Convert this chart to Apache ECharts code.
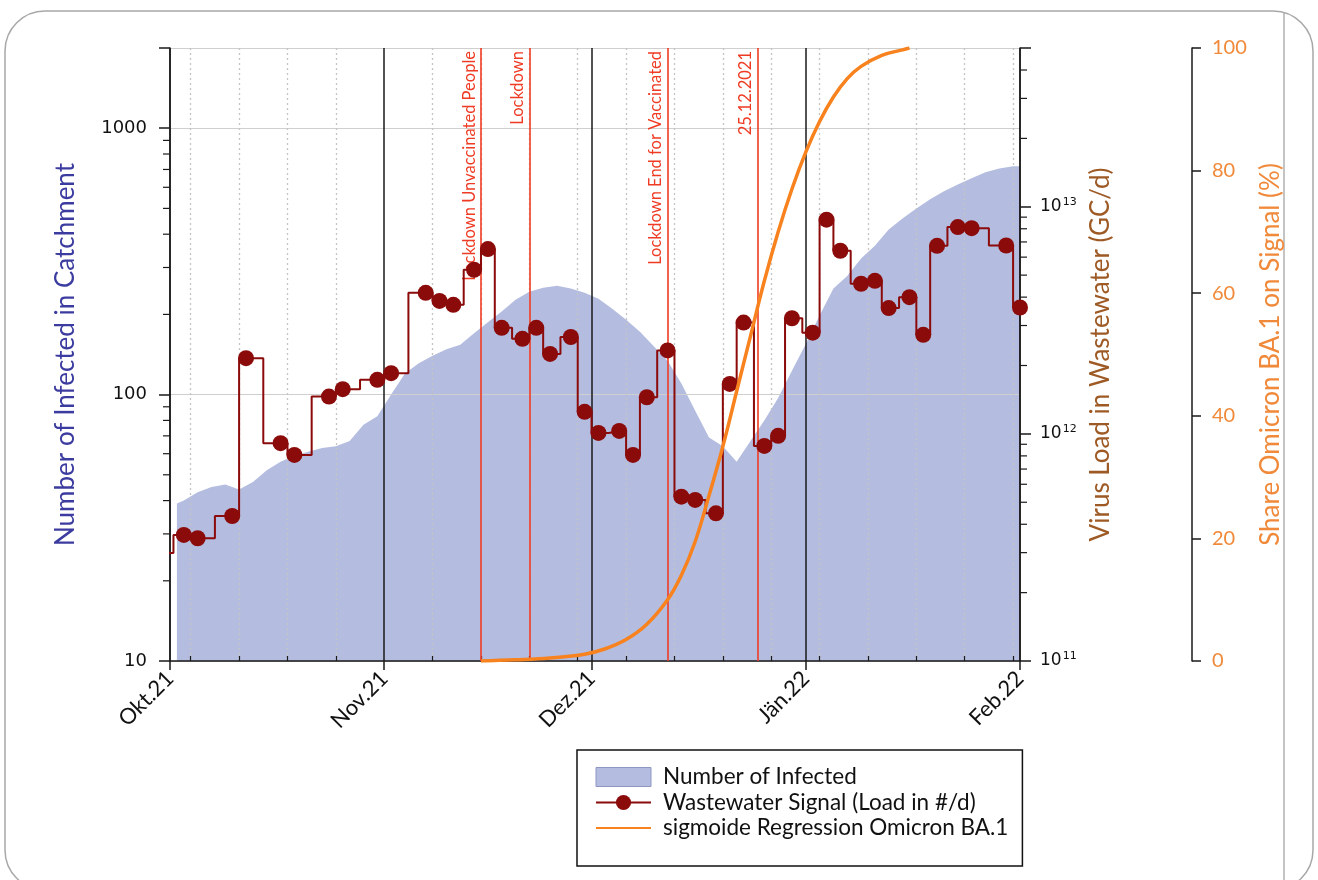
<!DOCTYPE html>
<html><head><meta charset="utf-8">
<script src="https://cdn.jsdelivr.net/npm/echarts@6/dist/echarts.min.js"></script>
<style>html,body{margin:0;padding:0;background:#fff}#c{width:1318px;height:880px}</style>
</head><body><div id="c"></div>
<script>
// ---------- data ----------
const seriesNames = ['Number of Infected', 'Wastewater Signal (Load in #/d)', 'sigmoide Regression Omicron BA.1'];

const monthTicks  = ['2021-10-01', '2021-11-01', '2021-12-01', '2022-01-01', '2022-02-01'];
const monthLabels = ['Okt.21', 'Nov.21', 'Dez.21', 'Jän.22', 'Feb.22'];
const weekTicks = ['2021-10-04','2021-10-11','2021-10-18','2021-10-25','2021-11-08','2021-11-15','2021-11-22',
  '2021-11-29','2021-12-06','2021-12-13','2021-12-20','2021-12-27','2022-01-03','2022-01-10','2022-01-17',
  '2022-01-24','2022-01-31'];

const leftMinorTicks  = [20,30,40,50,60,70,80,90,200,300,400,500,600,700,800,900];
const rightMinorTicks = [2e11,3e11,4e11,5e11,6e11,7e11,8e11,9e11,2e12,3e12,4e12,5e12,6e12,7e12,8e12,9e12,2e13,3e13,4e13];

const eventDates  = ['2021-11-15', '2021-11-22', '2021-12-12', '2021-12-25'];
const eventLabels = ['Lockdown Unvaccinated People', 'Lockdown', 'Lockdown End for Vaccinated', '25.12.2021'];

const infectedDates = ['2021-10-02','2021-10-03','2021-10-05','2021-10-07','2021-10-09','2021-10-11','2021-10-13',
  '2021-10-15','2021-10-17','2021-10-19','2021-10-21','2021-10-23','2021-10-25','2021-10-27','2021-10-29',
  '2021-10-31','2021-11-02','2021-11-04','2021-11-06','2021-11-08','2021-11-10','2021-11-12','2021-11-14',
  '2021-11-16','2021-11-18','2021-11-20','2021-11-22','2021-11-24','2021-11-26','2021-11-28','2021-11-30',
  '2021-12-02','2021-12-04','2021-12-06','2021-12-08','2021-12-10','2021-12-12','2021-12-14','2021-12-16',
  '2021-12-18','2021-12-20','2021-12-22','2021-12-24','2021-12-26','2021-12-28','2021-12-30','2022-01-01',
  '2022-01-03','2022-01-05','2022-01-07','2022-01-09','2022-01-11','2022-01-13','2022-01-15','2022-01-17',
  '2022-01-19','2022-01-21','2022-01-23','2022-01-25','2022-01-27','2022-01-29','2022-01-31','2022-02-01'];
const infectedValues = [39,40,43,45,46,44,47,
  52,56,59,61,63,64,67,77,
  83,100,120,131,140,148,154,170,
  187,205,227,243,252,256,250,241,
  229,210,191,172,152,134,110,87,
  69,64,56,67,80,97,123,155,
  198,250,279,324,362,417,458,500,
  541,580,615,649,683,706,719,719];

const wasteDates = ['2021-09-30','2021-10-03','2021-10-05','2021-10-10','2021-10-12','2021-10-17','2021-10-19',
  '2021-10-24','2021-10-26','2021-10-31','2021-11-02','2021-11-07','2021-11-09','2021-11-11','2021-11-14',
  '2021-11-16','2021-11-18','2021-11-21','2021-11-23','2021-11-25','2021-11-28','2021-11-30','2021-12-02',
  '2021-12-05','2021-12-07','2021-12-09','2021-12-12','2021-12-14','2021-12-16','2021-12-19','2021-12-21',
  '2021-12-23','2021-12-26','2021-12-28','2021-12-30','2022-01-02','2022-01-04','2022-01-06','2022-01-09',
  '2022-01-11','2022-01-13','2022-01-16','2022-01-18','2022-01-20','2022-01-23','2022-01-25','2022-01-30',
  '2022-02-01'];
const wasteValues = [2.99e11,3.59e11,3.47e11,4.35e11,2.155e12,9.1e11,8.08e11,
  1.46e12,1.574e12,1.73e12,1.851e12,4.18e12,3.85e12,3.70e12,5.28e12,
  6.51e12,2.93e12,2.62e12,2.93e12,2.25e12,2.67e12,1.25e12,1.01e12,
  1.03e12,8.08e11,1.45e12,2.33e12,5.29e11,5.12e11,4.47e11,1.66e12,
  3.09e12,8.85e11,9.8e11,3.23e12,2.79e12,8.77e12,6.40e12,4.58e12,
  4.72e12,3.58e12,4.00e12,2.73e12,6.73e12,8.14e12,8.05e12,6.75e12,
  3.60e12];

const omicronDates = ['2021-11-15','2021-11-20','2021-11-25','2021-11-30','2021-12-03','2021-12-06','2021-12-09',
  '2021-12-12','2021-12-14','2021-12-16','2021-12-18','2021-12-20','2021-12-22','2021-12-24','2021-12-26',
  '2021-12-28','2021-12-30','2022-01-01','2022-01-03','2022-01-05','2022-01-07','2022-01-09','2022-01-12',
  '2022-01-15','2022-01-16'];
const omicronValues = [0,0.2,0.5,1.1,2,3.5,6,
  10,14,19.5,27,35,44,53,62,
  70,77,83,88,92,95,97,98.8,
  99.7,100];

// ---------- helpers ----------
function ts(s) { const p = s.split('-').map(Number); return new Date(p[0], p[1] - 1, p[2]).getTime(); }
function iso(d) { const m = d.getMonth() + 1, dd = d.getDate(); return d.getFullYear() + '-' + (m < 10 ? '0' : '') + m + '-' + (dd < 10 ? '0' : '') + dd; }
const tMin = ts(monthTicks[0]), tMax = ts(monthTicks[monthTicks.length - 1]);
const dayCats = [];
for (let d = new Date(tMin); d.getTime() <= tMax + 3600e3 * 2; d.setDate(d.getDate() + 1)) dayCats.push(iso(d));

const C = {
  area: '#b4bde0', waste: '#8b0a0a', orange: '#f7821e', orangeText: '#f08a3a',
  red: '#ef3b24', blueName: '#3c3ca0', brown: '#9e5a24', ink: '#1a1a1a'
};
const numFont = 'DejaVu Sans';
const txtFont = 'Lato';

function minorTicks(vals, yIdx, side) {
  return {
    type: 'custom', name: '_ticks' + yIdx, xAxisIndex: 0, yAxisIndex: yIdx, silent: true, clip: false, z: 6,
    data: vals.map(v => [side === 'left' ? tMin : tMax, v]),
    renderItem: (p, api) => {
      const c = api.coord([api.value(0), api.value(1)]);
      const dx = side === 'left' ? -7 : 7;
      return { type: 'line', shape: { x1: c[0], y1: c[1], x2: c[0] + dx, y2: c[1] }, style: { stroke: C.ink, lineWidth: 1.2 } };
    }
  };
}
function isPow10(v) { const e = Math.log10(v); return Math.abs(e - Math.round(e)) < 1e-6; }

const chart = echarts.init(document.getElementById('c'), null, { renderer: 'canvas' });
chart.setOption({
  backgroundColor: '#fff',
  animation: false,
  graphic: [
    { type: 'rect', shape: { x: 5, y: 11, width: 1308, height: 879, r: 40 }, style: { fill: 'none', stroke: '#a8a8a8', lineWidth: 1.5 }, silent: true, z: -10 },
    { type: 'line', shape: { x1: 1284, y1: 12, x2: 1284, y2: 880 }, style: { stroke: '#b0b0b0', lineWidth: 1.5 }, silent: true, z: -10 }
  ],
  grid: { left: 170, right: 298, top: 48, bottom: 219 },
  legend: {
    data: [
      { name: seriesNames[0], icon: 'rect', itemStyle: { color: C.area, borderColor: '#8e97c2', borderWidth: 1 } },
      { name: seriesNames[1] },
      { name: seriesNames[2], itemStyle: { color: 'rgba(0,0,0,0)', borderWidth: 0, opacity: 0 } }
    ],
    orient: 'vertical', left: 577, top: 750,
    itemWidth: 55, itemHeight: 19, itemGap: 1.5,
    padding: [15, 14, 26, 18],
    borderColor: '#111', borderWidth: 1.5, backgroundColor: '#fff',
    selectedMode: false,
    textStyle: { fontFamily: txtFont, fontSize: 22.5, lineHeight: 24, color: '#111', padding: [0, 0, 0, 7] }
  },
  xAxis: [
    { type: 'time', show: false, min: tMin, max: tMax, position: 'bottom', gridIndex: 0 },
    {
      type: 'category', data: dayCats, boundaryGap: false, position: 'bottom',
      axisLine: { show: true, lineStyle: { color: C.ink, width: 1.5 } },
      axisTick: { show: true, length: 9, interval: (i, v) => monthTicks.includes(v), lineStyle: { color: C.ink, width: 1.5 } },
      axisLabel: {
        show: true, interval: (i, v) => monthTicks.includes(v), rotate: 45, margin: 14,
        formatter: v => monthLabels[monthTicks.indexOf(v)] || '',
        fontFamily: txtFont, fontSize: 22, color: '#111'
      },
      splitLine: { show: true, interval: (i, v) => monthTicks.includes(v), lineStyle: { color: C.ink, width: 1.5 } }
    },
    {
      type: 'category', data: dayCats, boundaryGap: false, position: 'bottom',
      axisLine: { show: false },
      axisTick: { show: true, inside: true, length: 5, interval: (i, v) => weekTicks.includes(v), lineStyle: { color: C.ink, width: 1.2 } },
      axisLabel: { show: false },
      splitLine: { show: true, interval: (i, v) => weekTicks.includes(v), lineStyle: { color: '#c4c4c4', width: 1.3, type: [2, 3] } }
    }
  ],
  yAxis: [
    {
      type: 'log', logBase: 10, min: 10, max: 2000, position: 'left',
      name: 'Number of Infected in Catchment', nameLocation: 'middle', nameGap: 91,
      nameTextStyle: { fontFamily: txtFont, fontSize: 26, color: C.blueName },
      axisLine: { show: true, lineStyle: { color: C.ink, width: 1.5 } },
      axisTick: { show: true, length: 11, lineStyle: { color: C.ink, width: 1.5 } },
      axisLabel: { margin: 23, fontFamily: numFont, fontSize: 18, color: '#111', formatter: v => isPow10(v) ? String(Math.round(v)) : '' },
      splitLine: { show: true, lineStyle: { color: '#cfcfcf', width: 1.2 } }
    },
    {
      type: 'log', logBase: 10, min: 1e11, max: 5e13, position: 'right',
      name: 'Virus Load in Wastewater (GC/d)', nameLocation: 'middle', nameGap: 65,
      nameTextStyle: { fontFamily: txtFont, fontSize: 26, color: C.brown },
      axisLine: { show: true, lineStyle: { color: C.ink, width: 1.5 } },
      axisTick: { show: true, length: 11, lineStyle: { color: C.ink, width: 1.5 } },
      axisLabel: {
        margin: 20, fontFamily: numFont, fontSize: 17, color: '#111',
        formatter: v => isPow10(v) ? '10{s|' + Math.round(Math.log10(v)) + '}' : '',
        rich: { s: { fontFamily: numFont, fontSize: 11, color: '#111', padding: [0, 0, 9, 1] } }
      },
      splitLine: { show: false }
    },
    {
      type: 'value', min: 0, max: 100, interval: 20, position: 'right', offset: 172,
      name: 'Share Omicron BA.1 on Signal (%)', nameLocation: 'middle', nameGap: 57,
      nameTextStyle: { fontFamily: txtFont, fontSize: 26, color: C.orangeText },
      axisLine: { show: true, lineStyle: { color: C.ink, width: 1.5 } },
      axisTick: { show: true, length: 9, lineStyle: { color: C.ink, width: 1.5 } },
      axisLabel: { margin: 20, fontFamily: txtFont, fontSize: 20, color: C.orangeText },
      splitLine: { show: false }
    }
  ],
  series: [
    {
      name: seriesNames[0], type: 'line', xAxisIndex: 0, yAxisIndex: 0, z: -1,
      color: C.area, showSymbol: false, symbol: 'none', silent: true,
      lineStyle: { width: 0 }, areaStyle: { color: C.area, opacity: 1, origin: 'start' },
      data: infectedDates.map((d, i) => [ts(d), infectedValues[i]])
    },
    {
      name: seriesNames[1], type: 'line', xAxisIndex: 0, yAxisIndex: 1, z: 4,
      step: 'middle', symbol: 'circle', symbolSize: 16, showSymbol: true, clip: true, silent: true,
      color: C.waste, lineStyle: { color: C.waste, width: 2 }, itemStyle: { color: C.waste },
      data: wasteDates.map((d, i) => [ts(d), wasteValues[i]])
    },
    {
      name: seriesNames[2], type: 'line', xAxisIndex: 0, yAxisIndex: 2, z: 5,
      smooth: 0.4, symbol: 'none', silent: true,
      color: C.orange, lineStyle: { color: C.orange, width: 3.5 },
      data: omicronDates.map((d, i) => [ts(d), omicronValues[i]]),
      markLine: {
        silent: true, symbol: ['none', 'none'], z: 3, animation: false,
        lineStyle: { color: C.red, width: 1.6, type: 'solid' },
        label: { show: true, position: 'insideEndTop', formatter: p => p.name, color: C.red, fontFamily: txtFont, fontSize: 16.5, distance: 3 },
        data: eventDates.map((d, i) => ({ name: eventLabels[i], xAxis: ts(d) }))
      }
    },
    minorTicks(leftMinorTicks, 0, 'left'),
    minorTicks(rightMinorTicks, 1, 'right')
  ]
});
</script>
</body></html>
